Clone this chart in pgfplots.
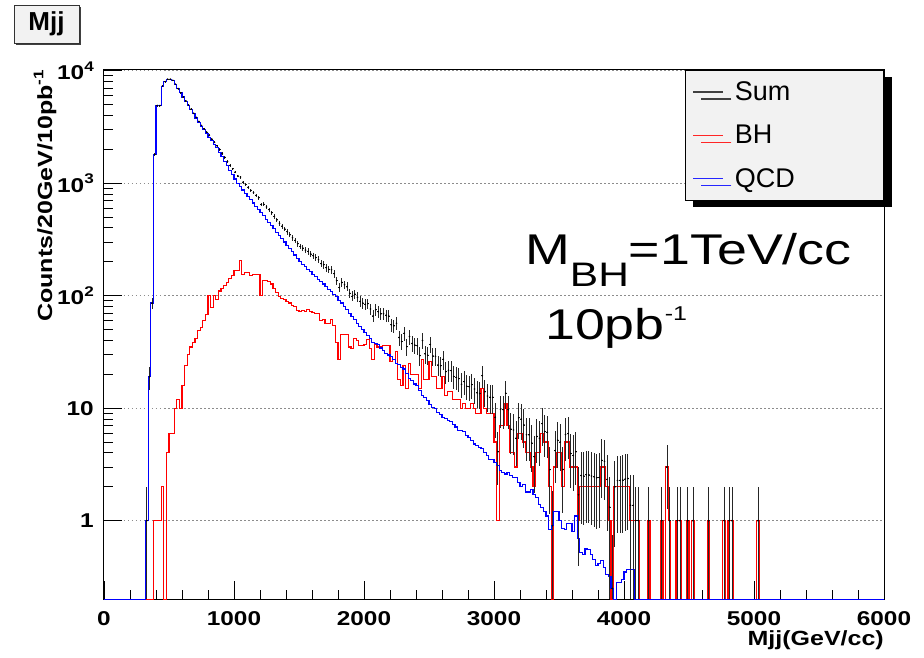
\documentclass[border=0pt]{standalone}
\usepackage{fontspec}
\setmainfont{Liberation Sans}
\newfontfamily\axfont{Liberation Sans}[FakeStretch=1.22]
\newfontfamily\annfont{Liberation Sans}[FakeStretch=1.25]
\usepackage{pgfplots}
\usepackage{pgfplotstable}
\pgfplotsset{compat=1.18}
\usetikzlibrary{shadows}
\definecolor{legfill}{RGB}{242,242,242}
\definecolor{gridgray}{RGB}{140,140,140}
\newcommand\supx[1]{\raisebox{0.42em}{\fontsize{14}{14}\selectfont #1}}
\newcommand\supy[1]{\raisebox{0.42em}{\fontsize{14}{14}\selectfont #1}}

\pgfplotstableread{
m v
0 0.2
320 1
340 19
360 86
380 1800
400 4900
420 4900
440 7300
460 8000
480 8400
500 8400
520 8200
540 7550
560 6930
580 6350
600 5830
620 5360
640 4920
660 4520
680 4140
700 3800
720 3490
740 3210
760 2980
780 2770
800 2560
820 2380
840 2210
860 2060
880 1880
900 1720
920 1570
940 1430
960 1300
980 1190
1000 1090
1020 993
1040 929
1060 869
1080 815
1100 762
1120 713
1140 667
1160 624
1180 585
1200 547
1220 512
1240 479
1260 448
1280 419
1300 392
1320 366
1340 343
1360 321
1380 300
1400 281
1420 262
1440 245
1460 230
1480 215
1500 201
1520 190
1540 181
1560 172
1580 163
1600 155
1620 148
1640 140
1660 133
1680 127
1700 120
1720 114
1740 109
1760 103
1780 98
1800 91
1820 86
1840 80
1860 75
1880 70
1900 65
1920 61
1940 57
1960 53
1980 50
2000 47
2020 44
2040 41.6
2060 38.5
2080 37.8
2100 36.5
2120 34.3
2140 32.7
2160 30.5
2180 29.7
2200 29
2220 27
2240 25
2260 24.5
2280 23.2
2300 22.3
2320 20.2
2340 18.4
2360 17.6
2380 16.4
2400 15.8
2420 14.3
2440 12.9
2460 12.4
2480 11.6
2500 10.8
2520 10.1
2540 9.9
2560 9.2
2580 8.8
2600 8.2
2620 8.1
2640 7.7
2660 7.6
2680 7.1
2700 6.8
2720 6.3
2740 6.3
2760 6.2
2780 5.7
2800 5.5
2820 5.2
2840 4.8
2860 4.7
2880 4.5
2900 4.4
2920 4.0
2940 3.8
2960 3.5
2980 3.5
3000 3.3
3020 3.1
3040 2.8
3060 2.7
3080 2.6
3100 2.7
3120 2.5
3140 2.4
3160 2.4
3180 2.2
3200 2.0
3220 2.1
3240 1.8
3260 1.8
3280 1.9
3300 1.7
3320 1.6
3340 1.4
3360 1.3
3380 1.2
3400 1.1
3420 0.84
3440 0.9
3460 1.2
3480 1.2
3500 1.0
3520 0.85
3540 0.84
3560 0.95
3580 0.95
3600 0.8
3620 1.1
3640 0.7
3660 0.52
3680 0.5
3700 0.56
3720 0.55
3740 0.5
3760 0.45
3780 0.40
3800 0.42
3820 0.44
3840 0.38
3860 0.33
3880 0.32
3900 0.25
3920 0.2
3940 0.28
3960 0.28
3980 0.3
4000 0.35
4020 0.37
4040 0.37
4060 0.37
4080 0.2
6000 0.2
}\qcdtab

\pgfplotstableread{
m v
0 0.2
380 1
400 1
420 1
440 2
460 0.2
480 4
500 6
520 6
540 10
560 12
580 10
600 16
620 24
640 30
660 35
680 38
700 42
720 49
740 52
760 60
780 68
800 100
820 78
840 100
860 92
880 110
900 116
920 124
940 132
960 141
980 151
1000 167
1020 167
1040 205
1060 153
1080 160
1100 160
1120 151
1140 155
1160 155
1180 155
1200 100
1220 136
1240 136
1260 133
1280 127
1300 115
1320 106
1340 98
1360 94
1380 92
1400 88
1420 86
1440 82
1460 80
1480 74
1500 73
1520 74
1540 73
1560 76
1580 72
1600 71
1620 70
1640 69
1660 60
1680 61
1700 57
1720 57
1740 61
1760 54
1780 38
1800 27
1820 45
1840 45
1860 45
1880 35
1900 34
1920 42
1940 40
1960 36
1980 36
2000 37
2020 41
2040 34
2060 27
2080 37
2100 35
2120 35
2140 36
2160 36
2180 36
2200 26
2220 27
2240 32
2260 18
2280 16
2300 24
2320 15
2340 25
2360 20
2380 20
2400 20
2420 15
2440 27
2460 18
2480 18
2500 26
2520 19
2540 19
2560 15
2580 15
2600 19
2620 13
2640 14
2660 14
2680 12
2700 12
2720 12
2740 10
2760 11
2780 10
2800 10
2820 11
2840 10
2860 9
2880 9
2900 15
2920 10
2940 9
2960 9
2980 9
3000 5
3020 1
3040 7
3060 7
3080 11
3100 7
3120 4
3140 4
3160 3
3180 6
3200 6
3220 5
3240 4
3260 4
3280 3
3300 2
3320 4
3340 4
3360 6
3380 5
3400 5
3420 2
3440 0.2
3460 3
3480 4
3500 4
3520 2
3540 5
3560 5
3580 3
3600 3
3620 3
3640 1
3660 2
3680 2
3700 2
3720 2
3740 2
3760 2
3780 2
3800 2
3820 3
3840 3
3860 2
3880 1
3900 0.2
3920 2
3940 2
3960 2
3980 2
4000 2
4020 2
4040 1
4060 1
4080 1
4100 1
4120 0.2
4180 1
4200 0.2
4280 1
4300 0.2
4320 3
4340 1
4360 0.2
4400 1
4420 1
4440 0.2
4480 1
4500 0.2
4520 1
4540 0.2
4640 1
4660 0.2
4760 1
4780 0.2
4800 1
4820 1
4840 0.2
5020 1
5040 0.2
6000 0.2
}\bhtab

\pgfplotstableread{
m s
330 1
350 19
370 86
390 1801
410 4901
430 4901
450 7302
470 8000
490 8404
510 8406
530 8206
550 7560
570 6942
590 6360
610 5846
630 5384
650 4950
670 4555
690 4178
710 3842
730 3539
750 3262
770 3040
790 2838
810 2660
830 2458
850 2310
870 2152
890 1990
910 1836
930 1694
950 1562
970 1441
990 1341
1010 1257
1030 1160
1050 1134
1070 1022
1090 975
1110 922
1130 864
1150 822
1170 779
1190 740
1210 647
1230 648
1250 615
1270 581
1290 546
1310 507
1330 472
1350 441
1370 415
1390 392
1410 369
1430 348
1450 327
1470 310
1490 289
1510 274
1530 264
1550 254
1570 248
1590 235
1610 226
1630 218
1650 209
1670 193
1690 188
1710 177
1730 171
1750 170
1770 157
1790 136
1810 118
1830 131
1850 125
1870 120
1890 105
1910 99
1930 103
1950 97
1970 89
1990 86
2010 84
2030 85
2050 76
2070 66
2090 75
2110 72
2130 69
2150 69
2170 67
2190 66
2210 55
2230 54
2250 57
2270 42.5
2290 39.2
2310 46.3
2330 35.2
2350 43.4
2370 37.6
2390 36.4
2410 35.8
2430 29.3
2450 39.9
2470 30.4
2490 29.6
2510 36.8
2530 29.1
2550 28.9
2570 24.2
2590 23.8
2610 27.2
2630 21.1
2650 21.7
2670 21.6
2690 19.1
2710 18.8
2730 18.3
2750 16.3
2770 17.2
2790 15.7
2810 15.5
2830 16.2
2850 14.8
2870 13.7
2890 13.5
2910 19.4
2930 14
2950 12.8
2970 12.5
2990 12.5
3010 8.3
3030 4.1
3050 9.8
3070 9.7
3090 13.6
3110 9.7
3130 6.5
3150 6.4
3170 5.4
3190 8.2
3210 8
3230 7.1
3250 5.8
3270 5.8
3290 4.9
3310 3.7
3330 5.6
3350 5.4
3370 7.3
3390 6.2
3410 6.1
3430 2.84
3450 0.9
3470 4.2
3490 5.2
3510 5
3530 2.85
3550 5.84
3570 5.95
3590 3.95
3610 3.8
3630 4.1
3650 1.7
3670 2.52
3690 2.5
3710 2.56
3730 2.55
3750 2.5
3770 2.45
3790 2.4
3810 2.42
3830 3.44
3850 3.38
3870 2.33
3890 1.32
3910 0.25
3930 2
3950 2.28
3970 2.28
3990 2.3
4010 2.35
4030 2.37
4050 1.37
4070 1.37
4090 1
4110 1
4190 1
4290 1
4330 3
4350 1
4410 1
4430 1
4490 1
4530 1
4650 1
4770 1
4810 1
4830 1
5030 1
}\sumtab

\begin{document}
\begin{tikzpicture}
\begin{axis}[
  set layers,
  scale only axis, width=780pt, height=529.3pt,
  xmin=0, xmax=6000, ymode=log, ymin=0.2, ymax=10140,
  clip=false,
  axis line style={line width=1pt},
  tick pos=left, tick align=inside,
  major tick length=18pt, minor tick length=9pt,
  tick style={line width=0.9pt, black},
  xtick={0,1000,2000,3000,4000,5000,6000},
  xticklabels={0,1000,2000,3000,4000,5000,6000},
  minor x tick num=4,
  ytick={1,10,100,1000,10000},
  yticklabels={1,10,10\supx{2},10\supx{3},10\supx{4}},
  ymajorgrids,
  major grid style={gridgray, line width=0.8pt, dash pattern=on 1.5pt off 2.5pt},
  tick label style={font=\axfont\bfseries\fontsize{20}{20}\selectfont},
  yticklabel style={inner sep=0pt, xshift=-10pt},
  xticklabel style={inner sep=0pt, yshift=-12pt},
  xlabel={Mjj(GeV/cc)},
  ylabel={Counts/20GeV/10pb\supy{-1}},
  label style={font=\axfont\bfseries\fontsize{20.5}{21}\selectfont},
  xlabel style={at={(axis description cs:1,0)}, anchor=north east, inner sep=0pt, yshift=-31pt},
  ylabel style={at={(axis description cs:-0.0756,1)}, anchor=east, inner sep=0pt},
  legend image code/.code={\draw[#1] (0pt,0pt) -- (30pt,0pt);},
  legend cell align=left,
  legend style={at={(1,1)}, anchor=north east, draw=black, line width=0.8pt,
    fill=legfill, font=\fontsize{27}{27}\selectfont,
    inner xsep=7.7pt, inner ysep=0pt, row sep=0pt,
    nodes={inner xsep=11pt, inner ysep=0pt, minimum height=43.3pt, text width=130pt},
    drop shadow={shadow xshift=8pt, shadow yshift=-7pt, fill=black, opacity=1}},
]
\addplot[forget plot, const plot mark left, red, line width=1.1pt] table[x=m,y=v]{\bhtab};
\addplot[forget plot, const plot mark left, blue, line width=1.1pt] table[x=m,y=v]{\qcdtab};
\addplot[forget plot, black, only marks, mark=*, mark size=0.6pt,
  error bars/.cd, y dir=both, y explicit, x dir=both, x fixed=7,
  error bar style={line width=0.8pt, black!85}, error mark=none]
  table[x=m, y=s, y error plus expr={sqrt(\thisrow{s})},
        y error minus expr={min(sqrt(\thisrow{s}),\thisrow{s}-0.2)}]{\sumtab};
\addlegendimage{black!75, line width=1.2pt}
\addlegendentry{Sum}
\addlegendimage{red!85, line width=1.2pt}
\addlegendentry{BH}
\addlegendimage{blue!85, line width=1.2pt}
\addlegendentry{QCD}
\node[anchor=base west, inner sep=0pt, font=\annfont\fontsize{43}{43}\selectfont]
  at (rel axis cs:0.5397,0.6316) {M\raisebox{-22pt}{\fontsize{34}{34}\selectfont BH}=1TeV/cc};
\node[anchor=base west, inner sep=0pt, font=\annfont\fontsize{43}{43}\selectfont]
  at (rel axis cs:0.5654,0.4899) {10pb\raisebox{19pt}{\fontsize{20}{20}\selectfont -1}};
\end{axis}
\node[draw=black!80, line width=0.7pt, fill=legfill, minimum width=65pt, minimum height=38pt,
  inner sep=0pt, drop shadow={shadow xshift=2.5pt, shadow yshift=-2.5pt, fill=black!75, opacity=1},
  font=\bfseries\fontsize{26}{26}\selectfont]
  at ([xshift=-57.5pt,yshift=575.3pt]current axis.south west) {Mjj};
\pgfresetboundingbox
\path[use as bounding box] ([xshift=-104pt,yshift=-57.7pt]current axis.south west)
  rectangle ([xshift=820pt,yshift=599.3pt]current axis.south west);
\end{tikzpicture}
\end{document}
